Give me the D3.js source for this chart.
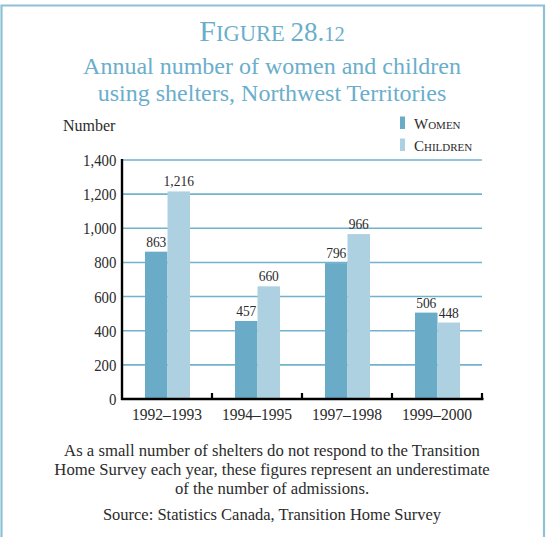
<!DOCTYPE html>
<html><head><meta charset="utf-8">
<script src="https://cdn.jsdelivr.net/npm/d3@7"></script>
<style>
html,body{margin:0;padding:0;background:#fff;}
svg{display:block;}
svg text{font-family:"Liberation Serif","Tinos","DejaVu Serif",serif !important;}
</style></head>
<body>
<svg id="c" width="546" height="537"></svg>
<script>
const categories = ["1992\u20131993","1994\u20131995","1997\u20131998","1999\u20132000"];
const women = [863,457,796,506];
const children = [1216,660,966,448];
const seriesNames = ["Women","Children"];
const yTicks = [0,200,400,600,800,1000,1200,1400];
const noteLines = ["As a small number of shelters do not respond to the Transition",
  "Home Survey each year, these figures represent an underestimate",
  "of the number of admissions."];
const source = "Source: Statistics Canada, Transition Home Survey";

const svg = d3.select("#c");
const blue = "#6aabc8", light = "#aed1e1", grid = "#72b2cc", titleC = "#6aaecb", txt = "#2b2b2b";
const cx = 272;

// frame
svg.append("path").attr("d","M1.5,540 V5.5 H544 V540").attr("fill","none")
  .attr("stroke","#8ec0d6").attr("stroke-width",2.2);

// titles
const t1 = svg.append("text").attr("x",cx).attr("y",41).attr("text-anchor","middle").attr("fill",titleC);
t1.append("tspan").attr("font-size",30).text("F");
t1.append("tspan").attr("font-size",22.5).text("IGURE ");
t1.append("tspan").attr("font-size",27).text("28.");
t1.append("tspan").attr("font-size",20.5).text("12");
svg.append("text").attr("x",cx).attr("y",74).attr("text-anchor","middle").attr("fill",titleC)
  .attr("font-size",24).text("Annual number of women and children");
svg.append("text").attr("x",cx).attr("y",101).attr("text-anchor","middle").attr("fill",titleC)
  .attr("font-size",24).text("using shelters, Northwest Territories");

// scales
const x0 = d3.scaleBand().domain(categories).range([122,482]).paddingInner(0).paddingOuter(0);
const y = d3.scaleLinear().domain([0,1400]).range([399,160]);
const x1 = d3.scaleBand().domain(seriesNames).range([23,68]);
const colors = {Women:blue, Children:light};

// gridlines
svg.append("g").selectAll("line").data(yTicks.filter(d=>d>0)).join("line")
  .attr("x1",122).attr("x2",482).attr("y1",d=>y(d)).attr("y2",d=>y(d))
  .attr("stroke",grid).attr("stroke-width",1.6);

// bars
const data = categories.map((c,i)=>({c, vals:[{k:"Women",v:women[i]},{k:"Children",v:children[i]}]}));
const g = svg.append("g").selectAll("g").data(data).join("g")
  .attr("transform",d=>`translate(${x0(d.c)},0)`);
g.selectAll("rect").data(d=>d.vals).join("rect")
  .attr("x",d=>x1(d.k)).attr("width",x1.bandwidth())
  .attr("y",d=>y(d.v)).attr("height",d=>y(0)-y(d.v)).attr("fill",d=>colors[d.k]);
g.selectAll("text").data(d=>d.vals).join("text")
  .attr("transform",d=>`translate(${x1(d.k)+x1.bandwidth()/2},${y(d.v)-5}) scale(0.9,1)`)
  .attr("text-anchor","middle").attr("font-size",15).attr("fill",txt)
  .text(d=>d3.format(",")(d.v));

// y axis
const ya = d3.axisLeft(y).tickValues(yTicks).tickSize(0).tickPadding(6.5).tickFormat(d3.format(","));
const yg = svg.append("g").attr("transform","translate(122,0)").call(ya);
yg.select(".domain").remove();
yg.selectAll("text").attr("font-size",17).attr("fill",txt).attr("transform","scale(0.87,1)");
svg.append("line").attr("x1",122).attr("x2",122).attr("y1",159).attr("y2",400)
  .attr("stroke","#000").attr("stroke-width",2.4);

// x axis
const xa = d3.axisBottom(x0).tickSize(0).tickPadding(9);
const xg = svg.append("g").attr("transform","translate(0,399)").call(xa);
xg.select(".domain").remove();
xg.selectAll("text").attr("font-size",17.5).attr("fill",txt).attr("transform","scale(0.89,1)");
svg.append("line").attr("x1",121).attr("x2",483.5).attr("y1",399).attr("y2",399)
  .attr("stroke","#000").attr("stroke-width",2.4);
svg.append("g").selectAll("line").data(categories).join("line")
  .attr("x1",d=>x0(d)+x0.bandwidth()).attr("x2",d=>x0(d)+x0.bandwidth())
  .attr("y1",393).attr("y2",399).attr("stroke","#000").attr("stroke-width",2.2);

// axis title
svg.append("text").attr("x",63).attr("y",131).attr("font-size",16).attr("fill",txt).text("Number");

// legend
const leg = svg.append("g").selectAll("g").data(seriesNames).join("g")
  .attr("transform",(d,i)=>`translate(400,${116.5+i*22})`);
leg.append("rect").attr("width",5).attr("height",12.5).attr("fill",d=>colors[d]);
leg.append("text").attr("x",14).attr("y",12).attr("fill",txt).attr("font-size",15)
  .style("font-variant","small-caps").text(d=>d);

// notes
svg.append("g").selectAll("text").data(noteLines).join("text")
  .attr("x",cx).attr("y",(d,i)=>456+i*19).attr("text-anchor","middle")
  .attr("font-size",16.7).attr("fill",txt).text(d=>d);
svg.append("text").attr("x",cx).attr("y",520).attr("text-anchor","middle")
  .attr("font-size",16.5).attr("fill",txt).text(source);
</script>
</body></html>
